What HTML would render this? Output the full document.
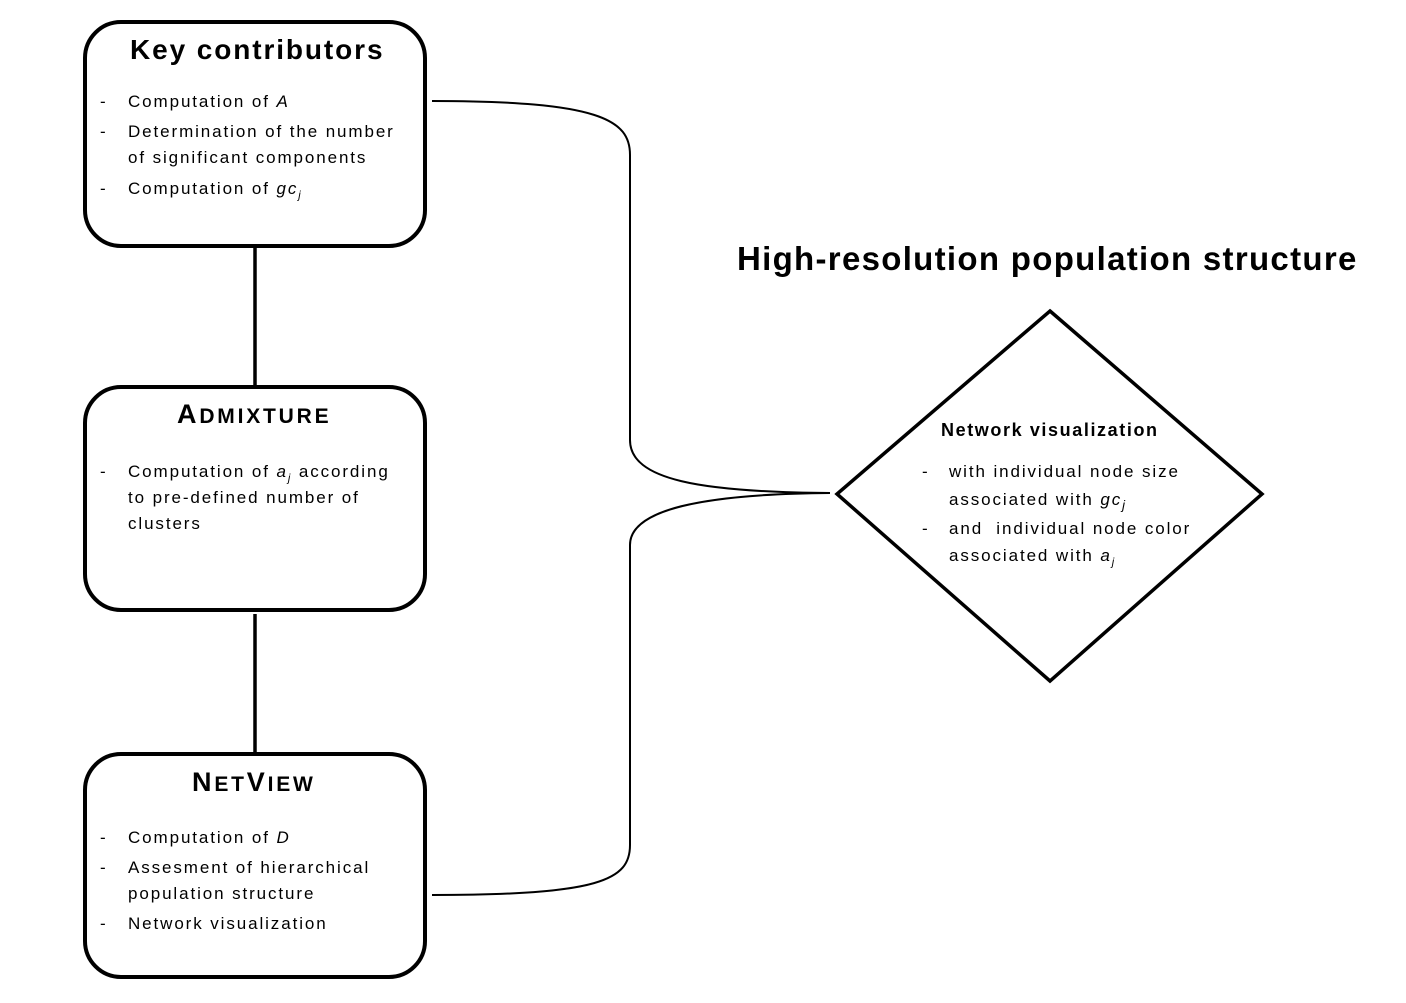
<!DOCTYPE html>
<html><head><meta charset="utf-8"><style>
html,body{margin:0;padding:0;background:#fff;}
body{width:1406px;height:1003px;position:relative;overflow:hidden;font-family:"Liberation Sans",sans-serif;color:#000;}
.t{position:absolute;white-space:nowrap;}
.h{font-weight:bold;font-size:28px;letter-spacing:1.9px;}
.s{font-size:17px;letter-spacing:1.9px;}
.sc{font-weight:bold;font-size:27px;letter-spacing:2.8px;}
.sc small{font-size:21px;}
</style></head><body>
<svg width="1406" height="1003" style="position:absolute;left:0;top:0">
<g fill="none" stroke="#000">
<rect x="85" y="22" width="340" height="224" rx="36" stroke-width="4"/>
<rect x="85" y="387" width="340" height="223" rx="36" stroke-width="4"/>
<rect x="85" y="754" width="340" height="223" rx="36" stroke-width="4"/>
<line x1="255" y1="246" x2="255" y2="387" stroke-width="3.5"/>
<line x1="255" y1="614" x2="255" y2="754" stroke-width="3.5"/>
<polygon points="1050,311 1262,494 1050,681 837,494" stroke-width="3.5"/>
<path d="M432,101 C600,101 630,120 630,155 L630,440 C630,480 700,492 830,493" stroke-width="2"/>
<path d="M830,493 C700,494 630,510 630,545 L630,845 C630,880 600,895 432,895" stroke-width="2"/>
</g>
</svg>
<div class="t h" style="left:130px;top:34px;">Key contributors</div>
<div class="t s" style="left:100px;top:92px;">-</div><div class="t s" style="left:128px;top:92px;">Computation of <i>A</i></div>
<div class="t s" style="left:100px;top:122px;">-</div><div class="t s" style="left:128px;top:122px;">Determination of the number</div>
<div class="t s" style="left:128px;top:148px;">of significant components</div>
<div class="t s" style="left:100px;top:179px;">-</div><div class="t s" style="left:128px;top:179px;">Computation of <i>gc<sub style="font-size:11px">j</sub></i></div>

<div class="t sc" style="left:177px;top:399px;">A<small>DMIXTURE</small></div>
<div class="t s" style="left:100px;top:462px;">-</div><div class="t s" style="left:128px;top:462px;">Computation of <i>a<sub style="font-size:11px">j</sub></i> according</div>
<div class="t s" style="left:128px;top:488px;">to pre-defined number of</div>
<div class="t s" style="left:128px;top:514px;">clusters</div>

<div class="t sc" style="left:192px;top:767px;">N<small>ET</small>V<small>IEW</small></div>
<div class="t s" style="left:100px;top:828px;">-</div><div class="t s" style="left:128px;top:828px;">Computation of <i>D</i></div>
<div class="t s" style="left:100px;top:858px;">-</div><div class="t s" style="left:128px;top:858px;">Assesment of hierarchical</div>
<div class="t s" style="left:128px;top:884px;">population structure</div>
<div class="t s" style="left:100px;top:914px;">-</div><div class="t s" style="left:128px;top:914px;">Network visualization</div>

<div class="t" style="left:737px;top:240px;font-weight:bold;font-size:33px;letter-spacing:1.3px;">High-resolution population structure</div>
<div class="t" style="left:941px;top:420px;font-weight:bold;font-size:18px;letter-spacing:1.6px;">Network visualization</div>
<div class="t s" style="left:922px;top:462px;">-</div><div class="t s" style="left:949px;top:462px;">with individual node size</div>
<div class="t s" style="left:949px;top:490px;">associated with <i>gc<sub style="font-size:13px">j</sub></i></div>
<div class="t s" style="left:922px;top:519px;">-</div><div class="t s" style="left:949px;top:519px;">and &nbsp;individual node color</div>
<div class="t s" style="left:949px;top:546px;">associated with <i>a<sub style="font-size:11px">j</sub></i></div>
</body></html>
